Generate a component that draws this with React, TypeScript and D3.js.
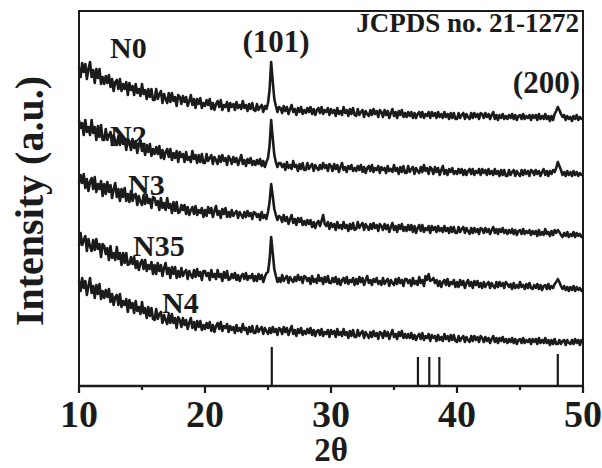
import { scaleLinear, line } from 'd3'

// XRD patterns, intensity in a.u., sampled every 0.125 deg from 10 to 50 deg 2theta
// (one row = 2 degrees)
const thetaStart = 10
const thetaStep = 0.125

const sampleNames = ['N0', 'N2', 'N3', 'N35', 'N4']

const n0 = [
  318, 309, 323, 314, 322, 307, 317, 324, 309, 316, 303, 317, 308, 317, 302, 309,
  302, 310, 303, 311, 299, 307, 295, 304, 306, 297, 307, 295, 302, 297, 304, 291,
  303, 296, 300, 291, 302, 293, 297, 290, 302, 292, 296, 287, 297, 289, 297, 286,
  286, 297, 287, 292, 295, 283, 292, 287, 283, 293, 284, 293, 285, 289, 280, 291,
  289, 282, 290, 284, 289, 280, 285, 291, 281, 287, 278, 287, 282, 288, 278, 283,
  280, 286, 281, 287, 277, 283, 276, 282, 285, 279, 286, 276, 281, 279, 284, 275,
  283, 279, 282, 276, 284, 278, 281, 277, 285, 278, 281, 275, 282, 277, 283, 276,
  275, 282, 276, 279, 281, 274, 280, 277, 283, 296, 324, 305, 287, 280, 274, 279,
  278, 273, 280, 275, 279, 272, 277, 281, 274, 277, 271, 278, 274, 279, 272, 276,
  273, 278, 274, 279, 272, 277, 271, 276, 278, 273, 279, 272, 276, 274, 278, 271,
  277, 273, 276, 270, 278, 272, 275, 271, 279, 273, 276, 270, 277, 272, 278, 271,
  270, 277, 271, 274, 276, 269, 275, 272, 270, 276, 271, 277, 272, 275, 269, 276,
  274, 269, 276, 271, 275, 268, 273, 277, 270, 274, 268, 275, 271, 276, 269, 273,
  269, 274, 270, 274, 268, 273, 268, 272, 274, 269, 274, 268, 272, 270, 274, 268,
  274, 270, 273, 268, 274, 269, 272, 268, 274, 269, 272, 267, 273, 268, 273, 267,
  267, 273, 268, 271, 273, 267, 272, 269, 267, 273, 268, 273, 269, 272, 267, 273,
  272, 268, 273, 269, 272, 267, 271, 274, 267, 271, 266, 271, 268, 272, 267, 270,
  267, 271, 268, 272, 267, 271, 266, 270, 271, 267, 272, 267, 270, 268, 271, 266,
  271, 268, 271, 266, 272, 267, 270, 267, 272, 267, 270, 265, 270, 266, 272, 275,
  279, 276, 272, 269, 271, 266, 270, 267, 269, 265, 270, 267, 271, 266, 269, 267,
  268,
]

const n2 = [
  266, 258, 263, 251, 266, 254, 259, 251, 266, 253, 259, 246, 260, 249, 261, 246,
  246, 257, 246, 251, 254, 241, 251, 245, 241, 250, 241, 251, 242, 247, 236, 247,
  245, 236, 247, 238, 245, 233, 241, 246, 235, 240, 231, 241, 234, 242, 230, 237,
  232, 239, 232, 240, 228, 236, 227, 234, 237, 229, 237, 226, 233, 228, 235, 224,
  234, 229, 232, 224, 234, 226, 229, 224, 235, 227, 231, 223, 231, 224, 232, 223,
  223, 232, 225, 228, 231, 222, 229, 226, 222, 230, 224, 231, 225, 228, 221, 230,
  227, 222, 229, 224, 228, 221, 226, 231, 222, 226, 220, 227, 223, 228, 221, 225,
  221, 226, 222, 227, 220, 225, 219, 224, 228, 240, 266, 248, 231, 224, 219, 223,
  223, 219, 222, 216, 224, 218, 221, 217, 225, 219, 221, 215, 222, 217, 223, 216,
  216, 223, 217, 220, 222, 215, 221, 218, 216, 221, 217, 223, 218, 221, 215, 222,
  220, 215, 222, 217, 221, 214, 219, 223, 216, 219, 214, 220, 217, 221, 215, 218,
  215, 220, 216, 221, 214, 219, 213, 218, 220, 215, 221, 214, 218, 216, 220, 213,
  219, 216, 218, 213, 220, 215, 217, 214, 221, 215, 218, 212, 219, 214, 220, 213,
  213, 220, 214, 217, 219, 212, 218, 215, 213, 219, 214, 221, 215, 218, 212, 219,
  217, 212, 219, 214, 218, 211, 216, 220, 212, 216, 211, 217, 214, 218, 212, 215,
  212, 217, 213, 217, 211, 216, 211, 215, 217, 212, 217, 211, 215, 213, 217, 211,
  217, 213, 216, 211, 217, 212, 215, 211, 217, 212, 215, 210, 216, 211, 216, 210,
  210, 216, 211, 214, 216, 210, 215, 212, 210, 216, 211, 216, 212, 215, 210, 216,
  215, 211, 216, 212, 215, 210, 214, 217, 211, 215, 210, 215, 212, 216, 214, 218,
  224, 220, 216, 211, 214, 210, 215, 211, 214, 210, 215, 211, 214, 210, 213, 211,
  212,
]

const n3 = [
  202, 211, 203, 212, 198, 207, 195, 204, 208, 197, 209, 194, 202, 197, 205, 190,
  202, 192, 204, 194, 201, 188, 197, 203, 189, 197, 185, 197, 189, 198, 185, 192,
  184, 195, 185, 190, 192, 181, 190, 184, 181, 191, 182, 191, 183, 187, 178, 189,
  188, 181, 185, 176, 188, 178, 183, 176, 188, 178, 182, 173, 184, 175, 184, 173,
  174, 181, 176, 181, 172, 179, 171, 176, 179, 172, 180, 171, 176, 173, 178, 169,
  176, 170, 179, 173, 178, 169, 175, 180, 171, 175, 168, 177, 172, 178, 169, 174,
  169, 176, 170, 173, 175, 168, 174, 171, 168, 174, 169, 175, 170, 173, 167, 174,
  173, 169, 172, 166, 174, 168, 171, 167, 174, 184, 202, 190, 177, 171, 166, 170,
  169, 164, 171, 165, 169, 162, 167, 171, 163, 167, 161, 168, 164, 168, 161, 165,
  161, 166, 162, 166, 159, 164, 158, 163, 165, 160, 165, 171, 162, 160, 164, 157,
  163, 159, 162, 156, 164, 158, 161, 157, 164, 158, 161, 155, 162, 157, 163, 156,
  157, 164, 158, 161, 163, 156, 162, 159, 156, 162, 157, 163, 158, 161, 155, 162,
  160, 156, 162, 157, 161, 154, 159, 163, 156, 160, 154, 161, 157, 162, 155, 159,
  155, 161, 156, 161, 154, 160, 153, 158, 161, 155, 161, 154, 158, 156, 160, 153,
  160, 156, 159, 154, 160, 155, 158, 154, 160, 155, 158, 153, 159, 154, 159, 153,
  153, 159, 154, 157, 159, 153, 158, 155, 152, 158, 153, 158, 154, 157, 152, 158,
  157, 153, 158, 154, 157, 152, 156, 159, 153, 157, 152, 157, 154, 158, 153, 156,
  152, 156, 153, 157, 152, 156, 151, 155, 156, 152, 157, 152, 155, 153, 156, 151,
  155, 152, 155, 150, 156, 151, 154, 151, 157, 152, 154, 150, 155, 151, 156, 153,
  156, 154, 151, 149, 153, 150, 154, 149, 152, 150, 154, 149, 153, 150, 152, 149,
  151,
]

const n35 = [
  140, 153, 141, 146, 150, 135, 147, 140, 135, 146, 136, 147, 137, 142, 129, 142,
  140, 132, 138, 126, 140, 128, 133, 126, 139, 127, 133, 121, 133, 123, 133, 121,
  122, 129, 122, 129, 118, 125, 116, 123, 126, 117, 126, 115, 121, 117, 124, 112,
  121, 112, 123, 115, 121, 110, 118, 123, 112, 118, 108, 119, 112, 119, 108, 115,
  109, 118, 110, 114, 116, 107, 115, 111, 108, 116, 109, 117, 110, 114, 106, 115,
  115, 110, 113, 106, 116, 109, 112, 107, 116, 109, 112, 105, 114, 108, 115, 106,
  107, 112, 108, 113, 106, 111, 105, 110, 112, 107, 113, 106, 110, 108, 112, 105,
  110, 105, 112, 107, 111, 104, 109, 113, 114, 126, 149, 133, 117, 110, 104, 108,
  104, 111, 105, 108, 110, 103, 109, 106, 104, 109, 105, 111, 106, 109, 103, 110,
  109, 105, 108, 102, 110, 104, 107, 103, 111, 105, 108, 102, 109, 104, 110, 103,
  103, 108, 104, 109, 102, 107, 101, 106, 108, 103, 109, 102, 106, 104, 108, 101,
  107, 102, 109, 104, 108, 101, 106, 110, 103, 106, 101, 107, 104, 108, 102, 105,
  101, 108, 102, 105, 107, 100, 106, 103, 101, 107, 102, 108, 103, 106, 100, 107,
  107, 103, 106, 100, 108, 102, 105, 101, 109, 103, 106, 100, 110, 106, 112, 105,
  106, 108, 103, 106, 100, 105, 99, 104, 106, 101, 107, 100, 104, 102, 106, 99,
  104, 99, 106, 101, 105, 98, 103, 106, 100, 104, 98, 105, 101, 105, 99, 103,
  98, 104, 99, 102, 104, 98, 103, 100, 98, 104, 99, 104, 100, 103, 98, 104,
  102, 99, 102, 97, 103, 98, 101, 98, 104, 99, 101, 97, 102, 98, 103, 98,
  97, 101, 98, 102, 97, 101, 96, 100, 101, 97, 102, 97, 100, 98, 102, 104,
  107, 104, 100, 97, 100, 96, 99, 95, 99, 96, 100, 95, 99, 96, 98, 95,
  97,
]

const n4 = [
  105, 95, 108, 98, 105, 91, 100, 108, 93, 100, 88, 101, 92, 102, 87, 95,
  88, 96, 89, 97, 84, 92, 81, 89, 91, 81, 92, 79, 85, 81, 87, 74,
  86, 78, 83, 73, 85, 75, 79, 72, 84, 73, 78, 68, 79, 70, 78, 67,
  66, 77, 67, 72, 74, 63, 71, 66, 62, 72, 63, 72, 63, 68, 58, 69,
  66, 59, 68, 61, 66, 57, 63, 68, 58, 64, 56, 65, 59, 65, 56, 61,
  57, 63, 58, 64, 55, 61, 54, 60, 63, 57, 64, 55, 60, 58, 62, 54,
  60, 56, 59, 53, 61, 55, 58, 54, 62, 56, 58, 52, 59, 54, 60, 53,
  53, 60, 54, 57, 59, 52, 58, 55, 52, 58, 53, 59, 54, 57, 51, 58,
  57, 52, 59, 54, 58, 51, 56, 60, 52, 56, 50, 57, 53, 58, 51, 55,
  52, 57, 53, 58, 51, 56, 50, 55, 56, 51, 57, 50, 54, 52, 56, 49,
  56, 52, 55, 49, 57, 51, 54, 50, 57, 51, 54, 48, 55, 50, 56, 49,
  49, 56, 50, 53, 55, 48, 54, 51, 48, 54, 49, 55, 50, 53, 47, 54,
  53, 48, 55, 50, 54, 47, 52, 56, 49, 52, 47, 54, 50, 55, 48, 52,
  48, 52, 48, 53, 47, 51, 46, 50, 52, 47, 53, 46, 50, 48, 52, 45,
  51, 48, 50, 45, 51, 46, 49, 45, 52, 47, 50, 45, 51, 46, 51, 45,
  44, 50, 45, 48, 50, 44, 49, 46, 44, 50, 45, 50, 46, 49, 44, 50,
  48, 44, 49, 45, 48, 43, 47, 50, 44, 48, 43, 48, 45, 49, 44, 47,
  43, 47, 44, 48, 43, 47, 42, 46, 47, 43, 48, 43, 46, 44, 47, 42,
  47, 44, 47, 42, 48, 43, 46, 43, 48, 43, 46, 41, 46, 42, 47, 42,
  42, 46, 42, 45, 46, 41, 46, 43, 42, 46, 42, 47, 43, 46, 41, 46,
  44,
]

const patterns = [n0, n2, n3, n35, n4]

// JCPDS 21-1272 reference lines
const refPositions = [25.3, 36.9, 37.8, 38.6, 48.0]
const refHeights = [39, 29, 29, 29, 32]

const majorTicks = [10, 20, 30, 40, 50]
const minorTicks = [15, 25, 35, 45]

const App = () => {
  const width = 602
  const height = 468
  const left = 79
  const right = 583
  const top = 11
  const bottom = 386

  const font = '"Liberation Serif", "Times New Roman", serif'
  const ink = '#1b1b1b'

  const xScale = scaleLinear().domain([10, 50]).range([left, right])
  const yScale = scaleLinear().domain([0, 375]).range([bottom, top])

  const path = line<number>()
    .x((_, i) => xScale(thetaStart + i * thetaStep))
    .y(d => yScale(d))

  // label spots for the sample names
  const labelSpots = [
    [110, 58],
    [110, 146],
    [128, 195],
    [133, 256],
    [162, 313],
  ]

  return (
    <div style={{ position: 'absolute', left: 0, top: 0 }}>
      <svg width={width} height={height} style={{ display: 'block', background: '#fff' }}>
        <g fontFamily={font} fontWeight="bold" fill={ink}>
          {patterns.map((p, i) => (
            <path key={sampleNames[i]} d={path(p) ?? ''} fill="none" stroke={ink}
              strokeWidth={2.6} strokeLinejoin="round" />
          ))}

          {refPositions.map((d, i) => (
            <line key={d} x1={xScale(d)} x2={xScale(d)} y1={yScale(0)} y2={yScale(refHeights[i])}
              stroke={ink} strokeWidth={2.2} />
          ))}

          <rect x={left} y={top} width={right - left} height={bottom - top}
            fill="none" stroke={ink} strokeWidth={2} />
          <line x1={left - 1} x2={right + 1} y1={bottom} y2={bottom} stroke={ink} strokeWidth={2.6} />

          {majorTicks.map(t => (
            <g key={t}>
              <line x1={xScale(t)} x2={xScale(t)} y1={bottom} y2={bottom + 7} stroke={ink} strokeWidth={2.2} />
              <text x={xScale(t)} y={427} fontSize={38} textAnchor="middle">{t}</text>
            </g>
          ))}
          {minorTicks.map(t => (
            <line key={t} x1={xScale(t)} x2={xScale(t)} y1={bottom} y2={bottom + 4} stroke={ink} strokeWidth={2.2} />
          ))}

          <text x={xScale(30)} y={461} fontSize={33} textAnchor="middle">2θ</text>
          <text transform={`translate(43, 201) rotate(-90)`} fontSize={40} textAnchor="middle">
            Intensity (a.u.)
          </text>

          {sampleNames.map((n, i) => (
            <text key={n} x={labelSpots[i][0]} y={labelSpots[i][1]} fontSize={30}>{n}</text>
          ))}

          <text x={276} y={52} fontSize={31} textAnchor="middle">(101)</text>
          <text x={580} y={93} fontSize={31} textAnchor="end">(200)</text>
          <text x={579} y={32} fontSize={27} textAnchor="end">JCPDS no. 21-1272</text>
        </g>
      </svg>
    </div>
  )
}

export default App
